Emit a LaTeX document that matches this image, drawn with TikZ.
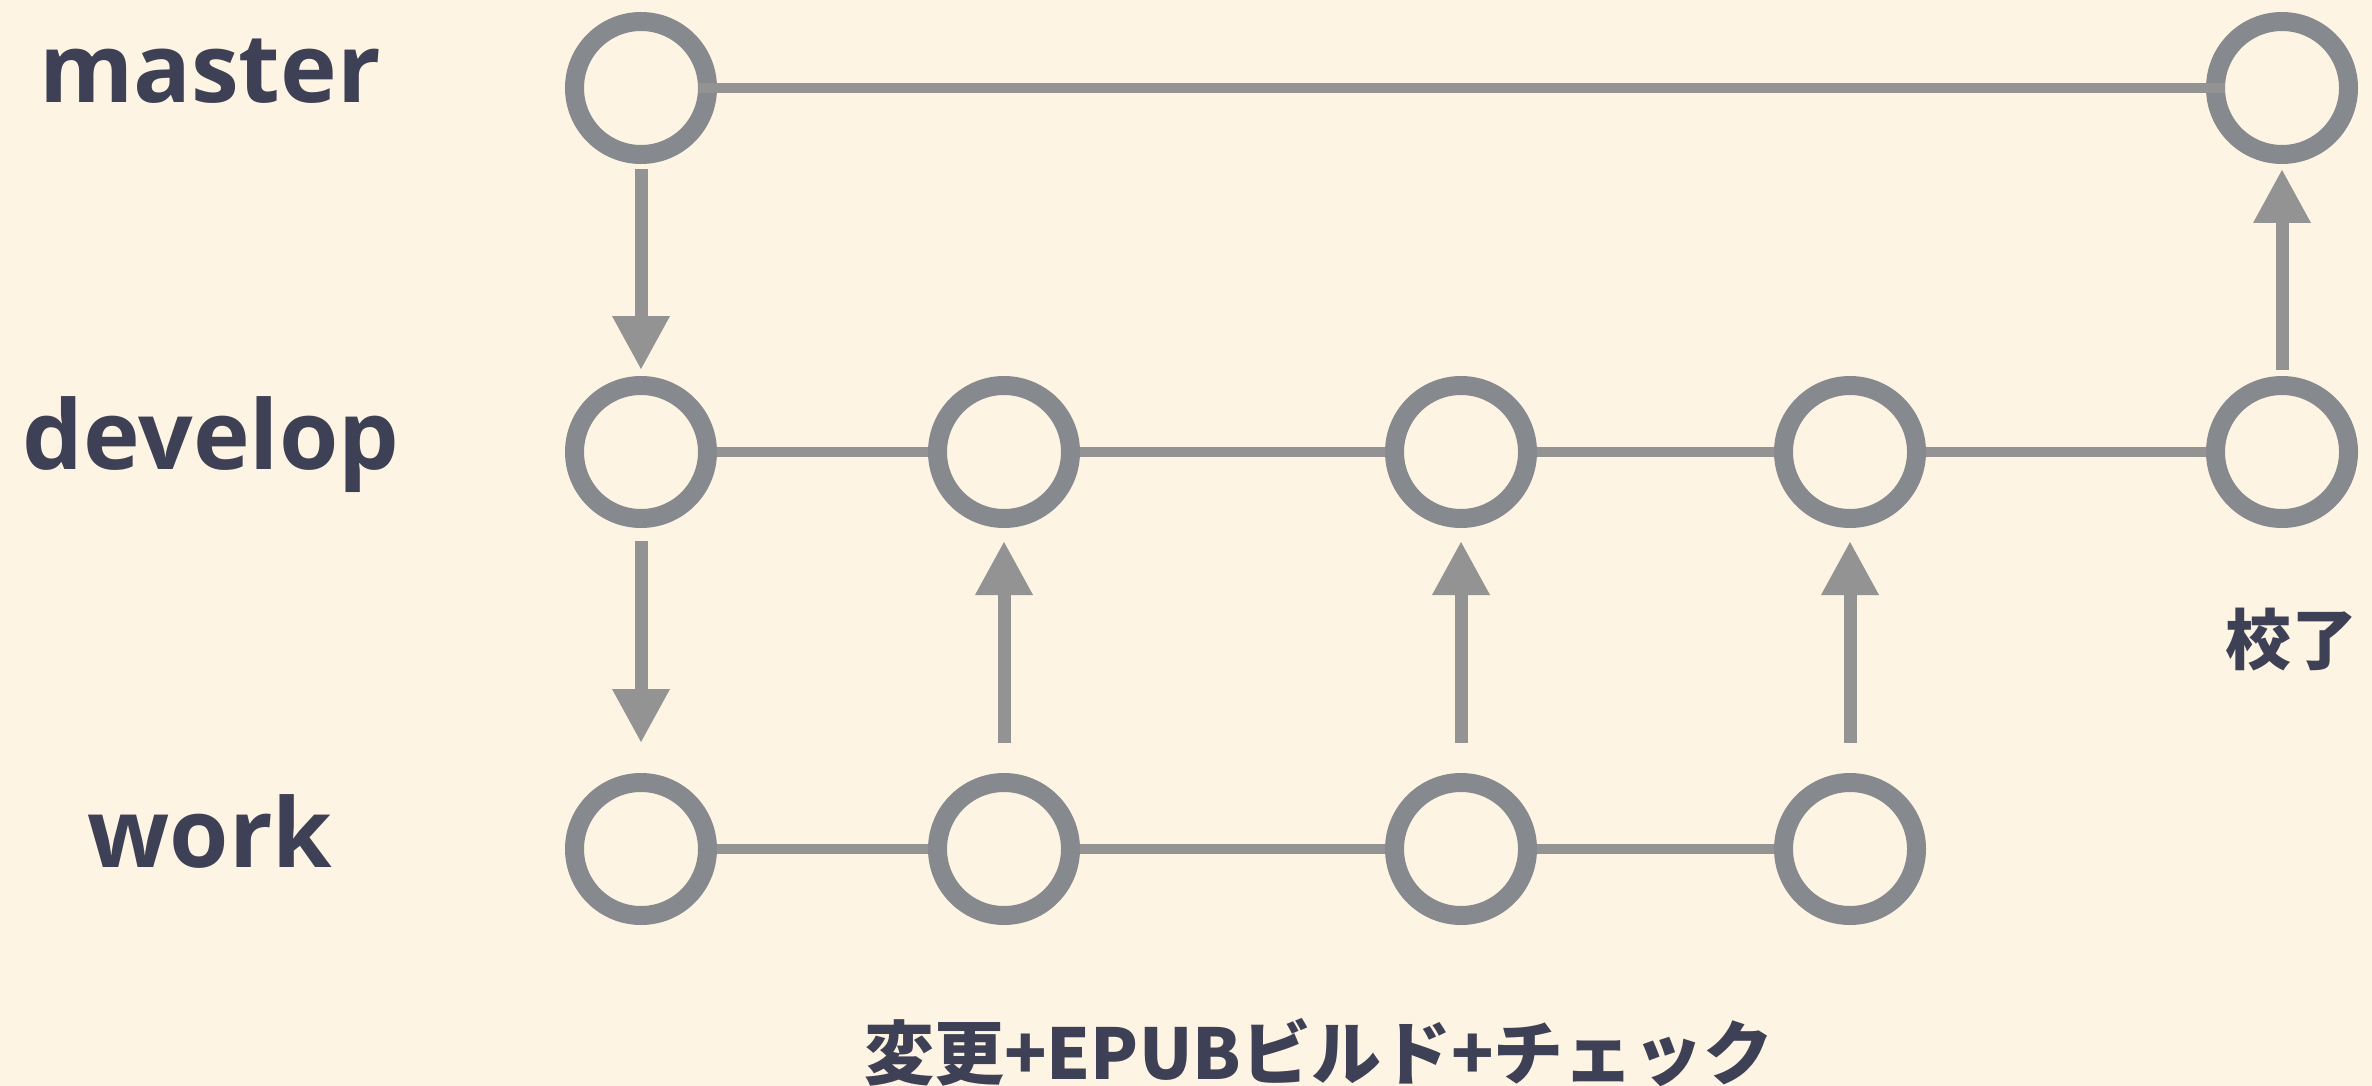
\documentclass[tikz,border=0pt]{standalone}
\usepackage{fontspec}
\setmainfont{Liberation Sans}
\newfontfamily\labelfont{Open Sans}
\newfontfamily\jpfont{Noto Sans CJK JP}
\usetikzlibrary{arrows.meta}
\definecolor{bgc}{HTML}{FEF4E3}
\definecolor{ringc}{HTML}{86898E}
\definecolor{linec}{HTML}{939393}
\definecolor{txtc}{HTML}{3E4055}
\tikzset{
  commit/.style={circle, draw=ringc, line width=19pt, fill=bgc, minimum size=133pt, inner sep=0pt},
  branchline/.style={draw=linec, line width=10.5pt},
  mergearrow/.style={draw=linec, line width=13pt, -{Triangle[width=54pt,length=54pt]}},
  branchlabel/.style={text=txtc, font=\fontsize{96}{110}\selectfont\labelfont\bfseries, anchor=base, inner sep=0pt},
  jplabel/.style={text=txtc, font=\fontsize{70}{80}\selectfont\jpfont\bfseries, anchor=base, inner sep=0pt}
}
\begin{document}
\begin{tikzpicture}[x=1pt,y=-1pt]
\path[fill=bgc] (0,0) rectangle (2372,1086);
\useasboundingbox (0,0) rectangle (2372,1086);
% labels
\node[branchlabel] (lm) at (210,103) {master};
\node[branchlabel] (ld) at (211,469) {develop};
\node[branchlabel] (lw) at (210,867) {work};
% commits
\node[commit] (m1) at (641,88) {};
\node[commit] (m2) at (2282,88) {};
\node[commit] (d1) at (641,452) {};
\node[commit] (d2) at (1004,452) {};
\node[commit] (d3) at (1461,452) {};
\node[commit] (d4) at (1850,452) {};
\node[commit] (d5) at (2282,452) {};
\node[commit] (w1) at (641,849) {};
\node[commit] (w2) at (1004,849) {};
\node[commit] (w3) at (1461,849) {};
\node[commit] (w4) at (1850,849) {};
% branch lines
\draw[branchline, shorten <=-19pt, shorten >=-19pt] (m1) -- (m2);
\draw[branchline] (d1) -- (d2);
\draw[branchline] (d2) -- (d3);
\draw[branchline] (d3) -- (d4);
\draw[branchline] (d4) -- (d5);
\draw[branchline] (w1) -- (w2);
\draw[branchline] (w2) -- (w3);
\draw[branchline] (w3) -- (w4);
% merges
\draw[mergearrow, shorten <=5pt, shorten >=6pt] (m1) -- (d1);
\draw[mergearrow, shorten <=13pt, shorten >=30pt] (d1) -- (w1);
\draw[mergearrow, shorten <=30pt, shorten >=13pt] (w2) -- (d2);
\draw[mergearrow, shorten <=30pt, shorten >=13pt] (w3) -- (d3);
\draw[mergearrow, shorten <=30pt, shorten >=13pt] (w4) -- (d4);
\draw[mergearrow, shorten <=6pt, shorten >=5pt] (d5) -- (m2);
% notes
\node[jplabel] (note) at (1319,1079) {変更+EPUBビルド+チェック};
\node[jplabel, font=\fontsize{66}{76}\selectfont\jpfont\bfseries] (done) at (2291,664) {校了};
\end{tikzpicture}
\end{document}
